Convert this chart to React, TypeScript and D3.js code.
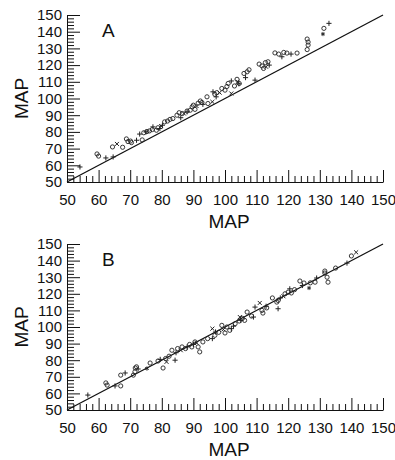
import React, { useEffect, useRef } from "react";
import * as d3 from "d3";

// axis ticks
const majorTicks = [50, 60, 70, 80, 90, 100, 110, 120, 130, 140, 150];
const minorTicks = d3.range(50, 151, 2).filter((v) => v % 10 !== 0);

// panel A: [x, y]
const aCircles = [
  [59.5, 66.8], [60, 65.5], [64.4, 71], [67.6, 70.8], [68.8, 75.8], [69.3, 74.2], [70.1, 74.5],
  [70.4, 73.6], [73.8, 75.2], [74.3, 79.5], [75.3, 80.2], [76.1, 80.6], [77, 81.4], [78.3, 81],
  [78.8, 82.5], [80.9, 86], [81.8, 86.5], [82.6, 87.5], [83.5, 88], [84.8, 90], [85.5, 91.5],
  [86.5, 91], [88, 92.5], [89, 93], [89.6, 95], [90, 96], [90.5, 93.5], [91.5, 97.2], [92.2, 98.5],
  [92.7, 97.6], [94.3, 101], [94.6, 97], [96.8, 102.5], [97.4, 103.5], [99, 106], [100, 105],
  [100.6, 107.2], [101, 109], [103, 107.5], [103.8, 111.5], [104.5, 109], [106, 115], [107, 116],
  [107.6, 117.2], [110.8, 120.6], [111.7, 119.5], [112.2, 118], [112.8, 121.5], [113.6, 122],
  [115.8, 127.3], [117, 126.6], [118.6, 127.6], [119.6, 127.2], [122.8, 127.2], [126, 135.6],
  [126.3, 133.8], [126.3, 132], [126, 129.3], [131.3, 142],
];
const aPlus = [
  [54.1, 59], [62.3, 64.4], [64.6, 65], [72, 75], [73, 78.7], [75, 80], [77.2, 83], [79.4, 82],
  [80.2, 84], [86, 88.5], [88, 92], [93, 96.5], [96.2, 104], [97.2, 101], [102, 110.5],
  [104.4, 108.8], [106.5, 112.5], [109.5, 111], [114, 120], [118, 125], [120.9, 126.6], [132.9, 145],
];
const aTimes = [
  [65.8, 72.8], [79.8, 83.5], [87, 91], [91, 95.5], [96, 98], [98.3, 103.5], [102, 103], [104, 110],
  [113, 119],
];
const aStars = [[131, 138.6]];

// panel B: [x, y]
const bCircles = [
  [62.3, 66.3], [62.7, 65], [67, 64.5], [67, 71], [71, 71], [71.5, 73], [72, 76], [71.6, 75.3],
  [76.3, 78.3], [78.8, 79.5], [80.4, 75.3], [81.2, 81], [82.3, 82.4], [83.2, 86], [85, 87],
  [86.4, 88], [87.5, 87], [88.8, 89.5], [89.5, 88], [90.5, 91], [91.5, 88], [92, 85], [93, 91],
  [94.5, 93], [96.8, 95], [98, 96.8], [99, 101], [100, 96.4], [100.6, 100], [101.5, 98],
  [103.2, 102], [104.5, 103.6], [105.5, 105.2], [106.2, 104], [107, 109], [108.4, 106.6],
  [111.7, 110], [112, 108.4], [113.2, 111.5], [115, 117.5], [116.4, 115], [116.8, 116], [119, 120],
  [120, 121], [121, 120.5], [122, 122.5], [123.7, 127.7], [125, 126.5], [127, 126.6], [128.5, 127],
  [131.6, 133.7], [132.3, 130], [132.6, 127], [131.6, 132.5], [135, 135.5], [140, 142.8],
];
const bPlus = [
  [56.6, 59], [65.2, 64.5], [68.4, 72.3], [72.5, 74.7], [79.5, 80.5], [84.2, 80], [84.5, 84.5],
  [88, 88], [90, 89.5], [96, 93], [97, 97], [102, 99], [102.7, 100.5], [105, 104], [109, 106],
  [109.5, 112], [113, 112.5], [116.8, 111], [117.5, 117.5], [120.5, 123], [124.5, 125],
  [129, 129.5], [138.6, 138.5],
];
const bTimes = [
  [81.5, 79], [86, 86], [91, 90.5], [96, 99], [99.5, 98.5], [104.7, 106], [111, 114.5],
  [118.5, 118.5], [141.5, 145],
];
const bStars = [[75.3, 75], [126.6, 123.5]];

const FONT = "'Liberation Sans', Arial, Helvetica, sans-serif";
const X0 = 67;
const X1 = 383;

const plusPath = d3.symbol(d3.symbolPlus, 10)();
const timesPath = d3.symbol(d3.symbolTimes, 12)();
const starPath = d3.symbol(d3.symbolAsterisk, 12)();

type Pt = number[];

const Panel = ({ label, top, bottom, circles, plus, times, stars }: {
  label: string; top: number; bottom: number;
  circles: Pt[]; plus: Pt[]; times: Pt[]; stars: Pt[];
}) => {
  const xRef = useRef<SVGGElement>(null);
  const yRef = useRef<SVGGElement>(null);
  const x = d3.scaleLinear().domain([50, 150]).range([X0, X1]);
  const y = d3.scaleLinear().domain([50, 150]).range([bottom, top]);

  useEffect(() => {
    const gx = d3.select(xRef.current);
    gx.selectAll("*").remove();
    gx.append("g").call(d3.axisBottom(x).tickValues(minorTicks).tickSize(-6).tickFormat(() => ""))
      .call((g) => g.select(".domain").remove());
    const major = gx.append("g").call(d3.axisBottom(x).tickValues(majorTicks).tickSizeInner(-12).tickSizeOuter(0).tickPadding(12));
    major.selectAll("text").attr("font-size", 15).attr("font-family", FONT).attr("fill", "#111");

    const gy = d3.select(yRef.current);
    gy.selectAll("*").remove();
    gy.append("g").call(d3.axisLeft(y).tickValues(minorTicks).tickSize(-7).tickFormat(() => ""))
      .call((g) => g.select(".domain").remove());
    const majorY = gy.append("g").call(d3.axisLeft(y).tickValues(majorTicks).tickSizeInner(-13).tickSizeOuter(0).tickPadding(5));
    majorY.selectAll("text").attr("font-size", 15).attr("font-family", FONT).attr("fill", "#111");
    gx.selectAll("line,path").attr("stroke", "#111");
    gy.selectAll("line,path").attr("stroke", "#111");
  }, [top, bottom]);

  return (
    <g>
      <line x1={x(50)} y1={y(50)} x2={x(150)} y2={y(150)} stroke="#111" strokeWidth={1.3} />
      {circles.map((d, i) => (
        <circle key={"c" + i} cx={x(d[0])} cy={y(d[1])} r={2.1} fill="none" stroke="#222" strokeWidth={0.9} />
      ))}
      {plus.map((d, i) => (
        <path key={"p" + i} d={plusPath} transform={`translate(${x(d[0])},${y(d[1])})`} fill="none" stroke="#222" strokeWidth={1} />
      ))}
      {times.map((d, i) => (
        <path key={"t" + i} d={timesPath} transform={`translate(${x(d[0])},${y(d[1])})`} fill="none" stroke="#222" strokeWidth={1} />
      ))}
      {stars.map((d, i) => (
        <path key={"s" + i} d={starPath} transform={`translate(${x(d[0])},${y(d[1])})`} fill="none" stroke="#222" strokeWidth={1} />
      ))}
      <g ref={xRef} transform={`translate(0,${bottom})`} />
      <g ref={yRef} transform={`translate(${X0},0)`} />
      <text x={102} y={top + 22} fontSize={19} fontFamily={FONT} fill="#111">{label}</text>
      <text x={229} y={bottom + 46} fontSize={19} fontFamily={FONT} fill="#111" textAnchor="middle">MAP</text>
      <text transform={`translate(28,${(top + bottom) / 2}) rotate(-90)`} fontSize={19} fontFamily={FONT} fill="#111" textAnchor="middle">MAP</text>
    </g>
  );
};

export default function App() {
  return (
    <svg width={395} height={460} style={{ position: "absolute", left: 0, top: 0, background: "#fff" }}>
      <Panel label="A" top={15} bottom={182} circles={aCircles} plus={aPlus} times={aTimes} stars={aStars} />
      <Panel label="B" top={244} bottom={410} circles={bCircles} plus={bPlus} times={bTimes} stars={bStars} />
    </svg>
  );
}
